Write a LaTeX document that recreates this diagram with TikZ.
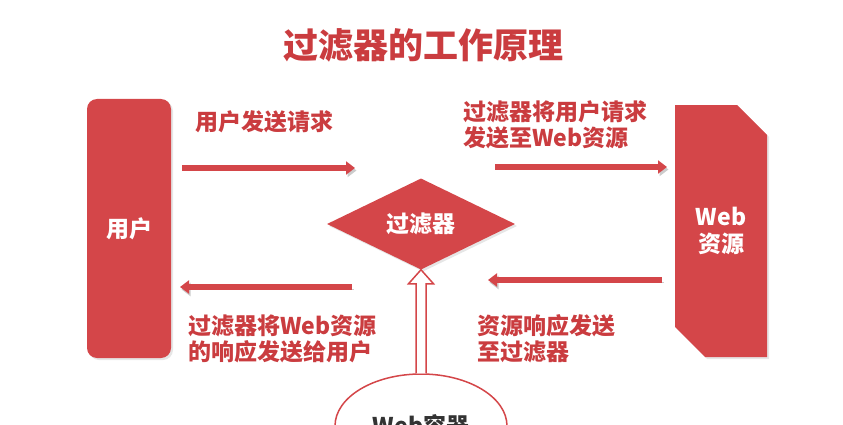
\documentclass[tikz,border=0pt]{standalone}
\usepackage{fontspec}
\newfontfamily\cjk{Noto Sans CJK SC}
\usetikzlibrary{arrows.meta, shapes.geometric, shapes.misc, shadows, calc}
\definecolor{fred}{RGB}{212,70,73}
\definecolor{tred}{RGB}{202,60,63}
\tikzset{
	box/.style={fill=fred, text=white, align=center, font=\cjk\bfseries\fontsize{23}{27}\selectfont, drop shadow={shadow xshift=2pt, shadow yshift=-2pt, opacity=.2}},
	flow/.style={draw=fred, line width=5.5pt, -{Triangle[length=9pt, width=13pt]}, preaction={draw=black!20, -{Triangle[length=9pt, width=13pt]}, transform canvas={shift={(1.5pt,-2.5pt)}}}},
	lbl/.style={text=tred, anchor=west, align=left, inner sep=0pt, font=\cjk\bfseries\fontsize{23}{26}\selectfont}
}
\begin{document}
\begin{tikzpicture}[x=1pt, y=1pt]
	\useasboundingbox (0,0) rectangle (843,424);
	\clip (0,0) rectangle (843,424);
	\node[text=tred, font=\cjk\bfseries\fontsize{35}{40}\selectfont] (title) at (423,379) {过滤器的工作原理};
	\node[box, rounded corners=10pt, minimum width=84pt, minimum height=259pt] (user) at (129,195.5) {用户};
	\node[box, chamfered rectangle, chamfered rectangle corners={north east, south west}, chamfered rectangle xsep=15pt, chamfered rectangle ysep=15pt, minimum width=92pt, minimum height=252pt] (web) at (721,193) {Web\\资源};
	\node[box, diamond, inner sep=0pt, minimum width=188pt, minimum height=88pt] (filter) at (421,200) {过滤器};
	\node[ellipse, draw=fred, line width=1.5pt, fill=white, minimum width=172pt, minimum height=104pt, text=black!80, font=\cjk\bfseries\fontsize{23}{27}\selectfont] (cont) at (421,-2) {Web容器};
	\coordinate (a1s) at (182,256); \coordinate (a1e) at (355,256);
	\coordinate (a2s) at (495,257); \coordinate (a2e) at (667,257);
	\coordinate (a3s) at (352,137); \coordinate (a3e) at (180,137);
	\coordinate (a4s) at (662,144); \coordinate (a4e) at (488,144);
	\draw[flow] (a1s) -- (a1e);
	\draw[flow] (a2s) -- (a2e);
	\draw[flow] (a3s) -- (a3e);
	\draw[flow] (a4s) -- (a4e);
	\node[lbl] (l1) at (195,302) {用户发送请求};
	\node[lbl] (l2) at (463,299) {过滤器将用户请求\\发送至Web资源};
	\node[lbl] (l3) at (188,85.5) {过滤器将Web资源\\的响应发送给用户};
	\node[lbl] (l4) at (477,85.5) {资源响应发送\\至过滤器};
	\draw[draw=fred, line width=1.5pt, fill=white] ($(cont.north)+(-5,0)$) |- ($(filter.south)+(-12.5,-14)$) -- (filter.south) -- ($(filter.south)+(12.5,-14)$) -| ($(cont.north)+(5,0)$);
\end{tikzpicture}
\end{document}
